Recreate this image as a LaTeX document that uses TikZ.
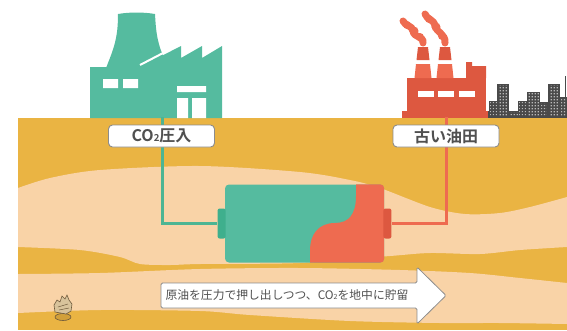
\documentclass[tikz,border=0pt]{standalone}
\usepackage{fontspec}
\newfontfamily\jpfont{Noto Sans CJK JP}[BoldFont={Noto Sans CJK JP Bold}]
\usetikzlibrary{positioning, patterns.meta}
\definecolor{plantgreen}{HTML}{55BB9F}
\definecolor{pipegreen}{HTML}{4DB593}
\definecolor{termgreen}{HTML}{3FAF8D}
\definecolor{oilred}{HTML}{DD5840}
\definecolor{oilorange}{HTML}{EE6B50}
\definecolor{soil}{HTML}{EAB443}
\definecolor{sand}{HTML}{F9D3A7}
\definecolor{city}{HTML}{4A4A4A}
\definecolor{citylight}{HTML}{B8B8B8}
\definecolor{framegray}{HTML}{8C8C8C}
\definecolor{inkgray}{HTML}{505050}
\definecolor{shellbeige}{HTML}{D8C39B}
\definecolor{shellgold}{HTML}{D2A03A}
\definecolor{shellline}{HTML}{6E5A3C}
\newcommand{\cotwo}{CO\scalebox{0.6}{2}}
\tikzdeclarepattern{name=citywindows, type=uncolored,
  bottom left={(0pt,0pt)}, top right={(3.2pt,3.2pt)},
  tile size={(3.2pt,3.2pt)},
  code={\fill (0.9pt,0.9pt) rectangle (2.3pt,2.3pt);}}

\begin{document}
\begin{tikzpicture}[x=1pt, y=-1pt,
    sitelabel/.style={draw=framegray, fill=white, line width=0.9pt,
      rounded corners=4pt, minimum width=106pt, minimum height=22pt,
      inner sep=0pt, text=inkgray,
      font=\jpfont\bfseries\fontsize{16}{18}\selectfont},
    cell/.style={fill=plantgreen, rounded corners=4pt, inner sep=0pt,
      minimum width=159pt, minimum height=78pt},
    terminal/.style={rounded corners=2pt, inner sep=0pt,
      minimum width=8pt, minimum height=30pt},
    co2pipe/.style={pipegreen, line width=3pt},
    oilpipe/.style={oilorange, line width=3pt},
    smoke/.style={oilorange, line width=7pt, line cap=round},
    msgtext/.style={inner sep=0pt, text=inkgray,
      font=\jpfont\fontsize{11.8}{14}\selectfont}]
  \useasboundingbox (0,0) rectangle (567,330);

  % GROUND

  \fill[soil] (18,118) rectangle (567,330);
  \fill[sand] plot[smooth] coordinates {(18,188) (50,178) (100,170)
      (200,166) (300,172) (350,180) (380,188) (430,207) (465,214)
      (500,213) (530,207) (567,197)}
    -- plot[smooth] coordinates {(567,247) (520,250) (480,254)
      (430,253) (390,256) (300,263) (200,264) (170,265) (140,264)
      (120,257) (80,250) (18,247)} -- cycle;
  \fill[sand] plot[smooth] coordinates {(18,274) (100,273) (200,269)
      (300,268) (400,270) (470,273) (520,278) (567,283)}
    -- plot[smooth] coordinates {(567,324) (500,323) (440,323)
      (350,321) (250,315) (200,311) (100,310) (18,313)} -- cycle;

  % CO2 PLANT

  \fill[plantgreen] (118,14) .. controls (130,12) and (143,12) .. (155,14)
    .. controls (156,32) and (157,44) .. (166,62) -- (166,68) -- (106,68)
    .. controls (114,48) and (118,38) .. (118,14) -- cycle;
  \fill[plantgreen] (90,67) -- (140,67) -- (181,46) -- (181,58)
    -- (202,46) -- (202,58) -- (222,46) -- (222,118) -- (90,118) -- cycle;
  \draw[white, line width=2pt] (140,65) -- (165,52);
  \fill[white] (103,79) rectangle (118,88) (123,79) rectangle (138,88)
    (177,86) rectangle (206,92) (177,98) rectangle (188,118)
    (192,98) rectangle (206,118);
  \coordinate (co2well) at (162,117);

  % OIL FIELD

  \fill[oilred] (402,111) rectangle (490,118);
  \fill[oilred] (407,78) rectangle (486,111);
  \fill[oilred] (466,78) -- (466,62) -- (472,62) -- (472,66)
    -- (486,66) -- (486,78) -- cycle;
  \foreach \cx in {423,445} {
    \fill[oilred] (\cx-5,47) -- (\cx+5,47) -- (\cx+6.5,60) -- (\cx-6.5,60) -- cycle;
    \fill[oilorange] (\cx-7,64) -- (\cx+7,64) -- (\cx+8.5,78) -- (\cx-8.5,78) -- cycle;
  }
  \foreach \wx in {418,438,459}
    \fill[white] (\wx,91) rectangle (\wx+16,97);
  \draw[smoke] (423,43) .. controls (424,36) and (414,38) .. (413,31)
    .. controls (412,25) and (405,26) .. (403,21);
  \draw[smoke] (445,43) .. controls (446,34) and (436,32) .. (435,26)
    .. controls (434,19) and (427,20) .. (425,14);
  % puffs on the smoke
  \foreach \px/\py/\pr in {420/37/4, 414/31/4.5, 407/25/4,
      442/36/4, 436/27/4.5, 429/19/4}
    \fill[oilorange] (\px,\py) circle (\pr);
  \coordinate (oilwell) at (446,117);

  % city behind the field
  \draw[city, line width=1pt] (565,76) -- (565,97);
  \foreach \xa/\xb/\ytop in {488/567/111, 489/498/101, 497/509/84,
      518/527/101, 527/540/92, 540/548/102, 548/560/84, 560/567/97} {
    \fill[city] (\xa,\ytop) rectangle (\xb,118);
    \fill[pattern=citywindows, pattern color=citylight]
      (\xa+1.2,\ytop+1.2) rectangle (\xb-1.2,116.5);
  }

  % RESERVOIR

  \node[cell] (cell) at (304.5,223.5) {};
  \begin{scope}
    \clip[rounded corners=4pt] (cell.south west) rectangle (cell.north east);
    \fill[oilorange] (356,180) -- (356,196) .. controls (356,214) and (349,223)
      .. (335,223) .. controls (318,223) and (310,235) .. (310,250)
      -- (310,270) -- (390,270) -- (390,180) -- cycle;
  \end{scope}
  \node[terminal, fill=termgreen, left=-1pt of cell] (leftterm) {};
  \node[terminal, fill=oilred, right=-1pt of cell] (rightterm) {};

  \draw[co2pipe] (co2well) |- (leftterm);
  \draw[oilpipe] (oilwell) |- (rightterm);

  % LABELS

  \node[sitelabel] (co2label) at (161.5,136) {\cotwo 圧入};
  \node[sitelabel] (oillabel) at (446,136) {古い油田};

  \draw[fill=white, draw=framegray, line width=0.8pt, rounded corners=1.5pt]
    (161,283) -- (417,283) -- (417,267) -- (446,295.5) -- (417,324)
    -- (417,308) -- (161,308) -- cycle;
  \node[msgtext] (msg) at (287,295.5) {原油を圧力で押し出しつつ、\cotwo{}を地中に貯留};

  % fossil in the lower layer
  \filldraw[draw=shellline, fill=shellgold, line width=0.6pt]
    (63,317) ellipse (8 and 3.5);
  \filldraw[draw=shellline, fill=shellbeige, line width=0.6pt]
    (55,312) -- (54,305) -- (57,300) -- (60,302) -- (62,296) -- (65,299)
    -- (67,295) -- (69,300) -- (72,304) -- (71,311) -- (66,314) -- cycle;
  \draw[shellline, line width=0.5pt] (58,307) -- (68,304) (59,310) -- (69,308);
\end{tikzpicture}
\end{document}
